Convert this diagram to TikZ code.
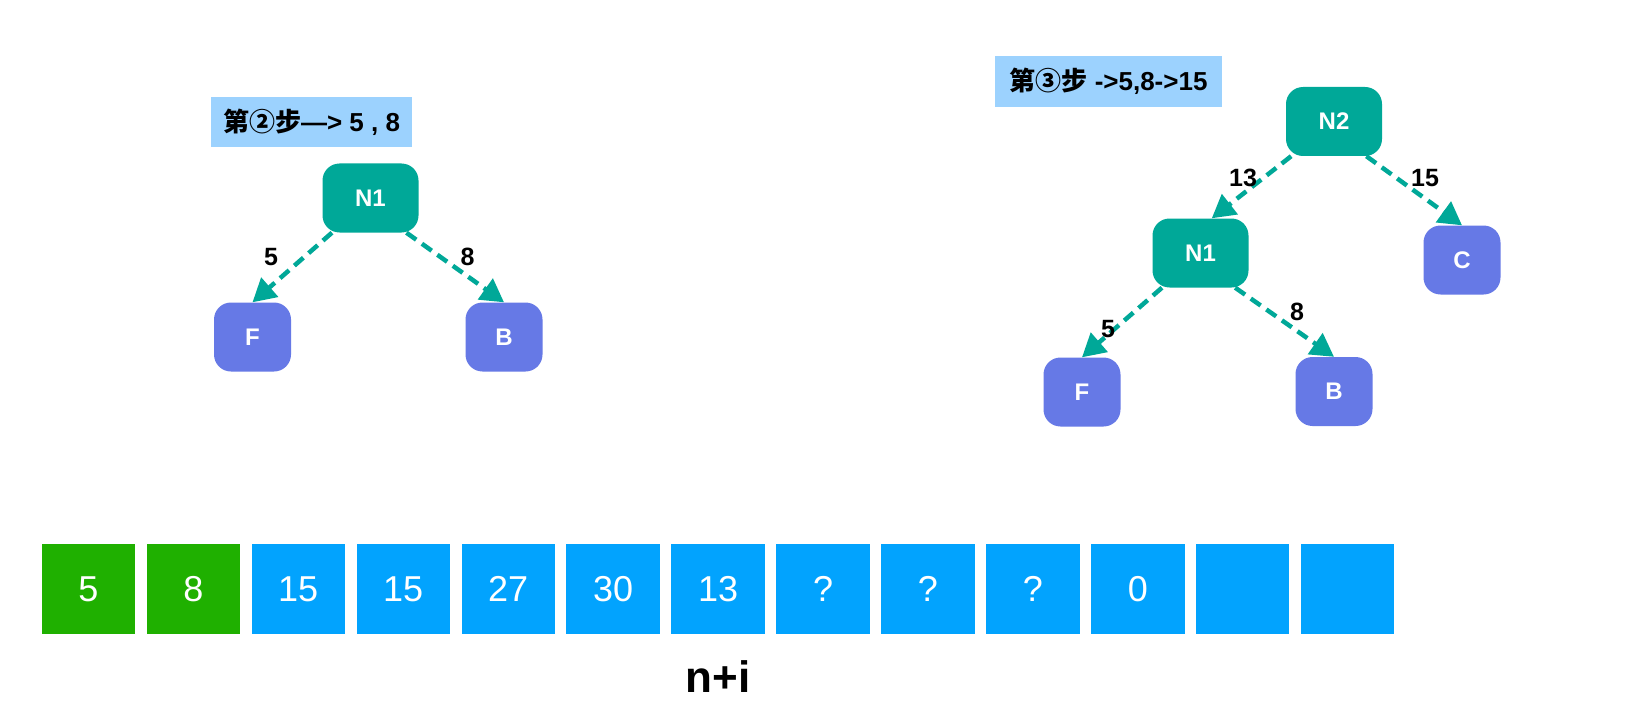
\documentclass[tikz,border=0pt]{standalone}
\usepackage{fontspec}
\setmainfont{Liberation Sans}
\newfontfamily\cjk{Noto Sans CJK SC}
\usetikzlibrary{arrows.meta}
\definecolor{tealnode}{HTML}{00A898}
\definecolor{leafcol}{HTML}{6679E6}
\definecolor{hdrcol}{HTML}{9CD2FE}
\definecolor{grncell}{HTML}{1FB000}
\definecolor{bluecell}{HTML}{02A3FE}
\begin{document}
\begin{tikzpicture}[x=1pt,y=-1pt,
  innernode/.style={fill=tealnode, rounded corners=17pt, minimum width=96pt, minimum height=69pt, inner sep=0pt, text=white, font=\fontsize{24}{28}\selectfont\bfseries},
  leafnode/.style={fill=leafcol, rounded corners=17pt, minimum width=77pt, minimum height=69pt, inner sep=0pt, text=white, font=\fontsize{24}{28}\selectfont\bfseries},
  hdrbox/.style={fill=hdrcol, inner sep=0pt, font=\fontsize{26}{30}\selectfont\bfseries},
  edgeline/.style={draw=tealnode, line width=4.5pt, dash pattern=on 12pt off 7pt, -{Triangle[length=23pt,width=25pt]}},
  elabel/.style={inner sep=0pt, font=\fontsize{25}{29}\selectfont\bfseries},
  cellbox/.style={minimum width=93.3pt, minimum height=89.5pt, inner sep=0pt, text=white, font=\fontsize{36}{42}\selectfont},
]
\useasboundingbox[fill=white] (0,0) rectangle (1632,714);

% left tree (step 2)
\node[hdrbox, minimum width=201pt, minimum height=50pt] (h1) at (311.5,122) {{\cjk\bfseries 第②步}—> 5 , 8};
\node[innernode] (a1) at (370.5,198) {N1};
\node[leafnode] (aF) at (252.5,337) {F};
\node[leafnode] (aB) at (504,337) {B};
\draw[edgeline] (a1.222) -- (aF.north);
\draw[edgeline] (a1.-44) -- (aB.north);
\node[elabel] (la5) at (271,257) {5};
\node[elabel] (la8) at (467.5,257) {8};

% right tree (step 3)
\node[hdrbox, minimum width=227pt, minimum height=51pt] (h2) at (1108.5,81.5) {{\cjk\bfseries 第③步} ->5,8->15};
\node[innernode] (b2) at (1334,121.5) {N2};
\node[innernode] (b1) at (1200.5,253) {N1};
\node[leafnode] (bC) at (1462,260) {C};
\node[leafnode] (bF) at (1082,392) {F};
\node[leafnode] (bB) at (1334,391.5) {B};
\draw[edgeline] (b2.219) -- (b1.72);
\draw[edgeline] (b2.-47) -- (bC.north);
\draw[edgeline] (b1.222) -- (bF.north);
\draw[edgeline] (b1.-45) -- (bB.north);
\node[elabel] (lb13) at (1243,178) {13};
\node[elabel] (lb15) at (1425,178.5) {15};
\node[elabel] (lb5) at (1108,329) {5};
\node[elabel] (lb8) at (1297,312) {8};

% array
\node[cellbox, fill=grncell] (c0) at (88.35,589) {5};
\node[cellbox, fill=grncell] (c1) at (193.3,589) {8};
\foreach \v [count=\i from 2] in {15,15,27,30,13,?,?,?,0,{},{}} {
  \node[cellbox, fill=bluecell] (c\i) at (88.35+104.95*\i,589) {\v};
}
\node[anchor=base, inner sep=0pt, font=\fontsize{44}{50}\selectfont\bfseries] (ni) at (718,692) {n+i};
\end{tikzpicture}
\end{document}
